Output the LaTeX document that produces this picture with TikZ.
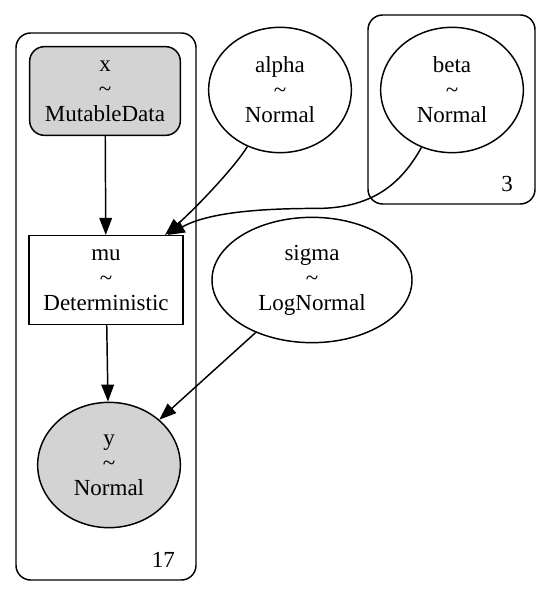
\documentclass[tikz,border=0pt]{standalone}
\usepackage{fontspec}
\setmainfont{Liberation Serif}
\usetikzlibrary{arrows.meta,shapes.geometric}
\definecolor{obsgray}{HTML}{D3D3D3}
\begin{document}
\begin{tikzpicture}[
    x=0.75pt, y=-0.75pt, line width=1.1pt,
    >={Triangle[length=12.75pt,width=9.5pt]},
    every node/.style={font=\fontsize{17.25}{18.75}\selectfont},
    free/.style={ellipse,draw,fill=white,minimum width=107pt,minimum height=94pt,inner sep=0pt,align=center},
    observed/.style={free,fill=obsgray},
    datanode/.style={rectangle,draw,rounded corners=11pt,fill=obsgray,minimum width=113pt,minimum height=66.5pt,inner sep=0pt,align=center},
    detnode/.style={rectangle,draw,fill=white,minimum width=115.5pt,minimum height=66.5pt,inner sep=0pt,align=center},
    plate/.style={draw,rounded corners=11pt}
]
\useasboundingbox (0,0) rectangle (552,605);

% plates
\draw[plate] (16,33) rectangle (196,580);
\draw[plate] (368,15) rectangle (535,204);
\node[anchor=base east] (n17) at (180,567) {17};
\node[anchor=base east] (n3)  at (518,192) {3};

\node[datanode] (x)     at (105,91)  {x\\\textasciitilde\\MutableData};
\node[free]     (alpha) at (280,90)  {alpha\\\textasciitilde\\Normal};
\node[free]     (beta)  at (452,90)  {beta\\\textasciitilde\\Normal};
\node[detnode]  (mu)    at (106,280) {mu\\\textasciitilde\\Deterministic};
\node[free,minimum width=150pt] (sigma) at (312,280) {sigma\\\textasciitilde\\LogNormal};
\node[observed] (y)     at (109,465) {y\\\textasciitilde\\Normal};

\draw[->] (x) -- (mu);
\draw[->] (alpha.240) .. controls +(-12,20) and +(30,-26) .. ([xshift=-14pt]mu.north east);
\draw[->] (beta.242) .. controls +(-18,32) and +(60,0) .. ++(-105,61)
                     .. controls +(-60,0) and +(40,-22) .. ([xshift=-12pt]mu.north east);
\draw[->] (mu) -- (y);
\draw[->] (sigma.223) -- (y.42);
\end{tikzpicture}
\end{document}
